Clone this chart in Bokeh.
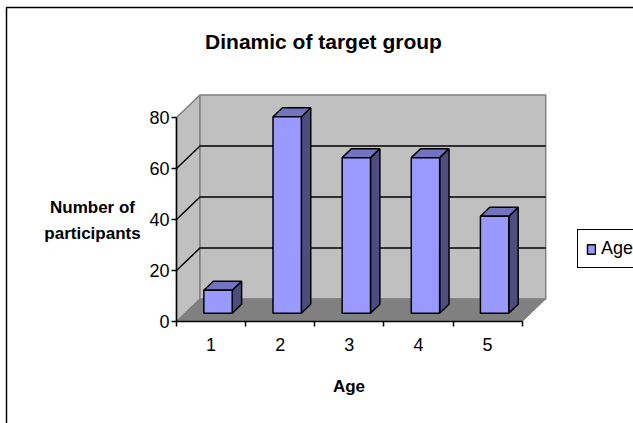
from bokeh.embed import file_html
from bokeh.models import (BoxAnnotation, FixedTicker, Label, Legend, LegendItem,
                          LinearAxis, Range1d)
from bokeh.plotting import figure
from bokeh.resources import INLINE

# Participants per age group
categories = [1, 2, 3, 4, 5]
participants = [9, 77, 61, 61, 38]
value_ticks = [0, 20, 40, 60, 80]

WIDTH, HEIGHT = 633, 423
ORIGIN_X, ORIGIN_Y = 176, 321   # page position of category edge 0 and value 0
PX_PER_CAT = 69.14
PX_PER_VAL = 2.55
DEPTH_X = 23.5 / PX_PER_CAT     # oblique shift of the back wall, in category units
DEPTH_Y = 22.5 / PX_PER_VAL     # and in value units
BAR_W = 0.41
BAR_START = 0.27                # left edge of a bar's front face inside its category
FRONT, BACK = 0.37, 0.77        # bar depth, as fractions of the box depth

WALL, FLOOR = "#c0c0c0", "#808080"
FACE, TOP_FACE, SIDE = "#9999ff", "#7373bf", "#4d4d80"
SANS = "Liberation Sans"


def data_x(px):
    return (px - ORIGIN_X) / PX_PER_CAT


def data_y(py):
    return (ORIGIN_Y - py) / PX_PER_VAL


# The frame fills the page; both axes are pinned inside it
p = figure(width=WIDTH, height=HEIGHT, output_backend="svg", toolbar_location=None,
           x_range=Range1d(data_x(0), data_x(WIDTH)),
           y_range=Range1d(data_y(HEIGHT), data_y(0)),
           x_axis_location=None, y_axis_location=None,
           min_border=0)
p.grid.visible = False
p.outline_line_color = None
p.background_fill_color = "white"

x_max, y_max = len(categories), value_ticks[-1]

# Side wall, back wall and floor of the box
p.patch([0, DEPTH_X, DEPTH_X, 0], [0, DEPTH_Y, y_max + DEPTH_Y, y_max],
        fill_color=WALL, line_color=FLOOR, line_width=1.5)
p.patch([DEPTH_X, x_max + DEPTH_X, x_max + DEPTH_X, DEPTH_X],
        [DEPTH_Y, DEPTH_Y, y_max + DEPTH_Y, y_max + DEPTH_Y],
        fill_color=WALL, line_color=FLOOR, line_width=1.5)
p.patch([0, x_max, x_max + DEPTH_X, DEPTH_X], [0, 0, DEPTH_Y, DEPTH_Y],
        fill_color=FLOOR, line_color=FLOOR)

# Gridlines run along the back wall and down the side wall
for v in value_ticks[1:-1]:
    p.line([0, DEPTH_X, x_max + DEPTH_X], [v, v + DEPTH_Y, v + DEPTH_Y],
           line_color="black", line_width=1.5)

# Bars: side and top faces first, then the front faces
lefts = [c - 1 + BAR_START for c in categories]
fx, fy = FRONT * DEPTH_X, FRONT * DEPTH_Y
bx, by = BACK * DEPTH_X, BACK * DEPTH_Y
p.patches([[l + BAR_W + fx, l + BAR_W + bx, l + BAR_W + bx, l + BAR_W + fx] for l in lefts],
          [[fy, by, v + by, v + fy] for v in participants],
          fill_color=SIDE, line_color="black", line_width=1.5)
p.patches([[l + fx, l + BAR_W + fx, l + BAR_W + bx, l + bx] for l in lefts],
          [[v + fy, v + fy, v + by, v + by] for v in participants],
          fill_color=TOP_FACE, line_color="black", line_width=1.5)
bars = p.quad(left=[l + fx for l in lefts], right=[l + BAR_W + fx for l in lefts],
              bottom=[fy] * len(lefts), top=[v + fy for v in participants],
              fill_color=FACE, line_color="black", line_width=1.5)

# Value axis
y_axis = LinearAxis(ticker=FixedTicker(ticks=value_ticks), bounds=(0, y_max), fixed_location=0)
y_axis.axis_line_color = "black"
y_axis.axis_line_width = 1.5
y_axis.major_tick_out = 5
y_axis.major_tick_in = 0
y_axis.major_tick_line_color = "black"
y_axis.major_tick_line_width = 1.5
y_axis.minor_tick_line_color = None
y_axis.major_label_standoff = 2
y_axis.major_label_text_font = SANS
y_axis.major_label_text_font_size = "18px"
y_axis.major_label_text_color = "black"
p.add_layout(y_axis, "left")

# Category axis: labels sit mid-category, tick marks on the category edges
x_axis = LinearAxis(ticker=FixedTicker(ticks=[c - 0.5 for c in categories],
                                       minor_ticks=list(range(x_max + 1))),
                    bounds=(0, x_max), fixed_location=0,
                    major_label_overrides={c - 0.5: str(c) for c in categories})
x_axis.axis_line_color = "black"
x_axis.axis_line_width = 1.5
x_axis.major_tick_line_color = None
x_axis.minor_tick_line_color = "black"
x_axis.minor_tick_line_width = 1.5
x_axis.minor_tick_out = 5
x_axis.minor_tick_in = 0
x_axis.major_label_standoff = 10
x_axis.major_label_text_font = SANS
x_axis.major_label_text_font_size = "18px"
x_axis.major_label_text_color = "black"
p.add_layout(x_axis, "below")

# Chart border, open towards the right and bottom of the page
p.add_layout(BoxAnnotation(left=data_x(6), right=data_x(WIDTH + 10),
                           top=data_y(7), bottom=data_y(HEIGHT + 10),
                           fill_alpha=0, line_color="black", line_alpha=1, line_width=1.5))


def text(content, x, y, size):
    p.add_layout(Label(x=data_x(x), y=data_y(y), text=content,
                       text_font=SANS, text_font_size=size, text_font_style="bold",
                       text_align="center", text_baseline="middle", text_color="black"))


text("Dinamic of target group", 323, 41, "21px")
text("Number of", 92, 207, "17px")
text("participants", 92, 233, "17px")
text("Age", 348.5, 386, "17px")

# Legend box runs past the page edge
legend = Legend(items=[LegendItem(label="Age", renderers=[bars])],
                location=(577, HEIGHT - 268), orientation="vertical",
                glyph_width=10, glyph_height=12, padding=8, margin=0,
                label_text_font=SANS, label_text_font_size="18px", label_text_color="black",
                label_standoff=5, border_line_color="black", border_line_alpha=1,
                border_line_width=1.5, background_fill_alpha=1)
p.add_layout(legend, "center")

open("out.html", "w").write(file_html(p, INLINE))
